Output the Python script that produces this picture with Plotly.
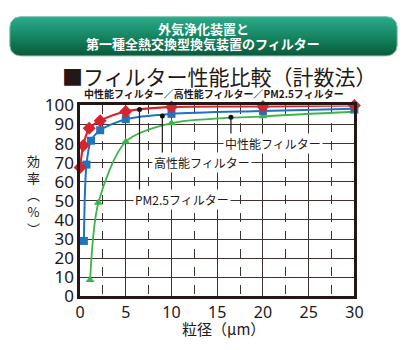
import numpy as np
import plotly.graph_objects as go

# ---- data ----
mid_x = [0, 0.35, 1.0, 2.2, 5, 10, 20, 30]
mid_y = [67.5, 79, 88, 92, 96.8, 99.2, 99.5, 100]
high_x = [0.42, 0.7, 1.2, 2.2, 5, 10, 20, 30]
high_y = [29, 69, 81.5, 87, 92.8, 95.6, 97.1, 98.3]
pm_x = [1.1, 2.0, 5, 10, 20, 30]
pm_y = [8.5, 49, 81, 90.7, 94.3, 96.7]

x_ticks = [0, 5, 10, 15, 20, 25, 30]
y_ticks = [0, 10, 20, 30, 40, 50, 60, 70, 80, 90, 100]

# leader dots and labels (as in the picture)
lead_x = [6.5, 9.0, 16.5]
lead_y = [97.9, 94.4, 93.8]
lead_end = [54.5, 72.5, 83]
label_text = ["PM2.5フィルター", "高性能フィルター", "中性能フィルター"]
label_x = [11.2, 13.3, 21.1]
label_y = [50.5, 70, 80]

W, H = 411, 350
INK = "#231815"
CJK = "Noto Sans CJK JP"

def px(x):
    return x / W

def py(y):
    return 1 - y / H

fig = go.Figure()

def rounded_rect(x0, y0, x1, y1, r, n=12):
    pts = []
    corners = [(x1 - r, y0 + r, -90, 0), (x1 - r, y1 - r, 0, 90),
               (x0 + r, y1 - r, 90, 180), (x0 + r, y0 + r, 180, 270)]
    for cx, cy, a0, a1 in corners:
        for a in np.linspace(np.radians(a0), np.radians(a1), n):
            pts.append((cx + r * np.cos(a), cy + r * np.sin(a)))
    pts.append(pts[0])
    xs = [p[0] for p in pts]
    ys = [H - p[1] for p in pts]
    return xs, ys

hx, hy = rounded_rect(5, 5, 406, 47, 11)
fig.add_trace(go.Scatter(
    x=hx, y=hy, xaxis="x2", yaxis="y2", mode="lines", fill="toself",
    line=dict(color="#7cc4ae", width=1),
    fillgradient=dict(type="vertical", start=H - 47, stop=H - 5,
                      colorscale=[[0, "#0a5133"], [0.45, "#127e5a"], [1, "#2bab8b"]]),
    hoverinfo="skip", showlegend=False))

fig.add_trace(go.Scatter(x=pm_x, y=pm_y, mode="lines+markers",
                         line=dict(color="#3db54a", width=1.8, shape="spline", smoothing=0.8),
                         marker=dict(symbol="triangle-up", size=8, color="#3db54a"),
                         cliponaxis=False, showlegend=False))
fig.add_trace(go.Scatter(x=high_x, y=high_y, mode="lines+markers",
                         line=dict(color="#1f74bd", width=2, shape="spline", smoothing=0.8),
                         marker=dict(symbol="square", size=8, color="#1f74bd"),
                         cliponaxis=False, showlegend=False))
fig.add_trace(go.Scatter(x=mid_x, y=mid_y, mode="lines+markers",
                         line=dict(color="#d5242e", width=2.2, shape="spline", smoothing=0.8),
                         marker=dict(symbol="diamond", size=10, color="#d5242e"),
                         cliponaxis=False, showlegend=False))

for lx, ly, le in zip(lead_x, lead_y, lead_end):
    fig.add_shape(type="line", x0=lx, x1=lx, y0=ly, y1=le, xref="x", yref="y",
                  line=dict(color=INK, width=1.2))
fig.add_trace(go.Scatter(x=lead_x, y=lead_y, mode="markers",
                         marker=dict(size=5, color="#111111"), showlegend=False))

for t, lx, ly in zip(label_text, label_x, label_y):
    fig.add_annotation(x=lx, y=ly, xref="x", yref="y", text=t, showarrow=False,
                       xanchor="center", yanchor="middle",
                       font=dict(family=CJK, size=12, color=INK),
                       bgcolor="white", borderpad=1)

def ptext(x, y, text, size, color=INK):
    fig.add_annotation(x=px(x), y=py(y), xref="paper", yref="paper", text=text,
                       showarrow=False, xanchor="center", yanchor="middle",
                       font=dict(family=CJK, size=size, color=color))

ptext(205, 17.5, "<b>外気浄化装置と</b>", 13, "white")
ptext(205, 34, "<b>第一種全熱交換型換気装置のフィルター</b>", 13, "white")
ptext(222, 69, "■フィルター性能比較（計数法）", 21)
ptext(216, 87, "<b>中性能フィルター／高性能フィルター／PM2.5フィルター</b>", 10)
ptext(226, 339, "粒径（μm）", 15)
ptext(30, 195, "効<br>率<br>︵<br>%<br>︶", 13)

x0p, x1p = 77.7, 361.7
ytop, ybot = 100, 304.3
grid = "#3e3330"
fig.update_layout(
    width=W, height=H, margin=dict(l=0, r=0, t=0, b=0),
    paper_bgcolor="white", plot_bgcolor="rgba(0,0,0,0)",
    xaxis=dict(domain=[px(x0p), px(x1p)], range=[0, 30], tickvals=x_ticks,
               showgrid=True, gridcolor=grid, gridwidth=1.3, zeroline=False,
               showline=True, mirror=True, linecolor=INK, linewidth=2.5,
               ticks="", tickfont=dict(family="Noto Sans", size=16, color=INK),
               minor=dict(dtick=2.5, tick0=0, showgrid=True, griddash="dash",
                          gridcolor=grid, gridwidth=1.2)),
    yaxis=dict(domain=[py(ybot), py(ytop)], range=[0, 100], tickvals=y_ticks,
               showgrid=True, gridcolor=grid, gridwidth=1.3, zeroline=False,
               showline=True, mirror=True, linecolor=INK, linewidth=2.5,
               ticks="", tickfont=dict(family="Noto Sans", size=17, color=INK)),
    xaxis2=dict(domain=[0, 1], range=[0, W], visible=False, fixedrange=True, anchor="y2"),
    yaxis2=dict(domain=[0, 1], range=[0, H], visible=False, fixedrange=True, anchor="x2"),
)

fig.write_html("out.html")
